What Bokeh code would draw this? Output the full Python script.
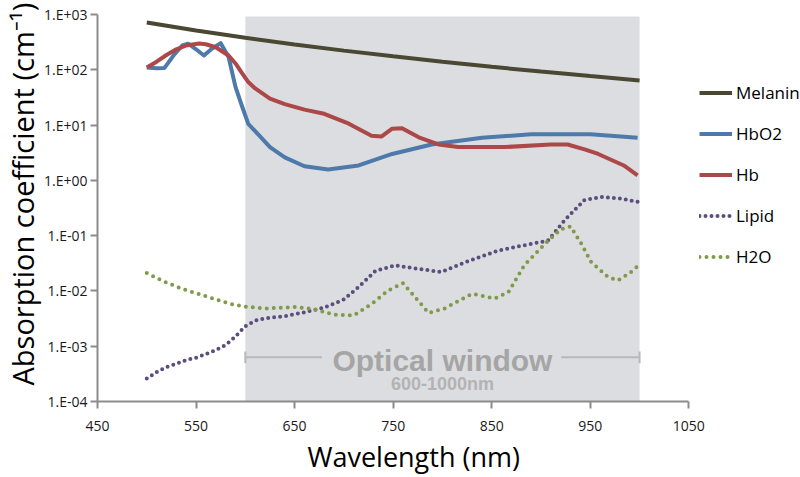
from bokeh.plotting import figure
from bokeh.models import Range1d, FixedTicker, Legend, LegendItem, Label, Title
from bokeh.embed import file_html
from bokeh.resources import INLINE

# ---------------- data ----------------
wl_melanin = [500, 550, 600, 650, 700, 750, 800, 850, 900, 950, 1000]
melanin = [716, 514, 380, 287, 222, 175, 140, 113, 93, 77, 64]

wl_hbo2 = [500, 510, 518, 528, 536, 542, 550, 558, 566, 575, 583, 590, 597, 603,
           614, 625, 640, 660, 684, 715, 749, 789, 840, 890, 950, 998]
hbo2 = [110, 107, 108, 190, 275, 296, 235, 181, 240, 303, 170, 49, 21, 10.5,
        6.5, 4.0, 2.6, 1.8, 1.57, 1.86, 3.0, 4.45, 5.9, 6.8, 6.8, 5.9]

wl_hb = [500, 510, 520, 530, 540, 553, 560, 570, 583, 590, 597, 603, 610, 625, 640,
         660, 680, 705, 728, 738, 749, 759, 776, 796, 816, 863, 910, 927, 945, 958,
         984, 998]
hb = [110, 140, 185, 235, 275, 298, 290, 256, 181, 130, 85, 60, 46, 30, 24,
      19, 16, 10.6, 6.4, 6.2, 8.6, 8.8, 6.0, 4.46, 4.0, 4.0, 4.46, 4.46, 3.6, 3.0,
      1.86, 1.23]

wl_lipid = [500, 510, 520, 530, 540, 550, 560, 570, 580, 590, 600, 610, 620, 640,
            660, 680, 700, 715, 732, 752, 776, 799, 823, 857, 890, 907, 924, 944,
            961, 980, 998]
lipid = [2.6e-4, 3.4e-4, 4.2e-4, 4.8e-4, 5.6e-4, 6.2e-4, 7.2e-4, 8.5e-4, 1.05e-3,
         1.5e-3, 2.3e-3, 2.9e-3, 3.2e-3, 3.5e-3, 4.1e-3, 5.0e-3, 7.0e-3, 1.18e-2,
         2.3e-2, 2.9e-2, 2.5e-2, 2.2e-2, 3.3e-2, 5.4e-2, 7.1e-2, 8.1e-2, 0.19, 0.44,
         0.50, 0.47, 0.41]

wl_h2o = [500, 515, 535, 560, 585, 600, 620, 650, 670, 690, 710, 728, 745, 760,
          772, 786, 802, 830, 853, 867, 883, 904, 920, 930, 941, 951, 968, 978,
          990, 1000]
h2o = [0.021, 0.0155, 0.011, 0.008, 0.0058, 0.0052, 0.0048, 0.0051, 0.0047,
       0.0037, 0.0036, 0.0058, 0.0102, 0.0138, 0.0078, 0.0040, 0.0048, 0.0089,
       0.0073, 0.0095, 0.029, 0.071, 0.13, 0.147, 0.071, 0.033, 0.0178, 0.0155,
       0.021, 0.030]

y_ticks = [1e-4, 1e-3, 1e-2, 1e-1, 1e0, 1e1, 1e2, 1e3]
y_tick_labels = ["1.E-04", "1.E-03", "1.E-02", "1.E-01", "1.E+00", "1.E+01",
                 "1.E+02", "1.E+03"]
x_ticks = [450, 550, 650, 750, 850, 950, 1050]

window_start, window_end, window_top = 600, 1000, 920

# ---------------- figure ----------------
AXIS_GREY = "#8c8c8c"
FONT = "Open Sans"

p = figure(width=800, height=477,
           x_range=Range1d(450, 1163.3), y_range=Range1d(1e-4, 1e3),
           y_axis_type="log", output_backend="svg", toolbar_location=None,
           min_border_left=95, min_border_top=14, min_border_bottom=76,
           min_border_right=0)
p.xgrid.visible = False
p.ygrid.visible = False
p.outline_line_color = None
p.background_fill_color = "white"
p.border_fill_color = "white"

# optical window shading
p.quad(left=[window_start], right=[window_end], bottom=[1e-4], top=[window_top],
       fill_color="#dcdde0", line_color=None)

r_mel = p.line(wl_melanin, melanin, line_color="#4a4833", line_width=4)
r_hbo2 = p.line(wl_hbo2, hbo2, line_color="#4d7aaa", line_width=4,
                line_join="round")
r_hb = p.line(wl_hb, hb, line_color="#ad4848", line_width=4, line_join="round")
r_lip = p.line(wl_lipid, lipid, line_color="#5b4d7c", line_width=4,
               line_dash="0 6", line_cap="round")
r_h2o = p.line(wl_h2o, h2o, line_color="#7f9b4a", line_width=4,
               line_dash="0 7", line_cap="round")

# optical window annotation
p.segment(x0=[window_start, 920.5], x1=[677.7, window_end], y0=[6.3e-4, 6.3e-4],
          y1=[6.3e-4, 6.3e-4], line_color="#b8b8b8", line_width=2)
p.segment(x0=[window_start, window_end], x1=[window_start, window_end],
          y0=[4.9e-4, 4.9e-4], y1=[8.0e-4, 8.0e-4], line_color="#b8b8b8",
          line_width=2)
p.add_layout(Label(x=800, y=5.5e-4, text="Optical window", text_align="center",
                   text_baseline="alphabetic", text_font="Liberation Sans",
                   text_font_style="bold", text_font_size="30px",
                   text_color="#a5a5a5"))
p.add_layout(Label(x=800, y=2.05e-4, text="600-1000nm", text_align="center",
                   text_baseline="alphabetic", text_font="Liberation Sans",
                   text_font_style="bold", text_font_size="18px",
                   text_color="#b3b3b3"))

# axes
xa = p.xaxis[0]
xa.ticker = FixedTicker(ticks=x_ticks)
xa.bounds = (450, 1050)
ya = p.yaxis[0]
ya.ticker = FixedTicker(ticks=y_ticks)
ya.major_label_overrides = {t: l for t, l in zip(y_ticks, y_tick_labels)}
for ax in (xa, ya):
    ax.axis_line_color = AXIS_GREY
    ax.axis_line_width = 2
    ax.major_tick_line_color = AXIS_GREY
    ax.major_tick_line_width = 2
    ax.major_tick_out = 7
    ax.major_tick_in = 0
    ax.minor_tick_line_color = None
    ax.major_label_text_font = FONT
    ax.major_label_text_font_size = "14px"
    ax.major_label_text_color = "#1a1a1a"
xa.major_label_standoff = 12
ya.major_label_standoff = 3

# axis titles (placed in the side panels)
p.add_layout(Title(text="Wavelength (nm)", align="left", offset=210, standoff=5,
                   text_font=FONT, text_font_size="27px",
                   text_font_style="normal", text_color="black"), "below")
p.add_layout(Title(text="Absorption coefficient (cm\u207b\u00b9)", align="left",
                   offset=16, standoff=0, text_font=FONT, text_font_size="29px",
                   text_font_style="normal", text_color="black"), "left")

legend = Legend(items=[LegendItem(label="Melanin", renderers=[r_mel]),
                       LegendItem(label="HbO2", renderers=[r_hbo2]),
                       LegendItem(label="Hb", renderers=[r_hb]),
                       LegendItem(label="Lipid", renderers=[r_lip]),
                       LegendItem(label="H2O", renderers=[r_h2o])],
                location=(602, 132), padding=0, margin=0,
                border_line_color=None, background_fill_alpha=0,
                glyph_width=33, glyph_height=25, label_height=25, spacing=16,
                label_standoff=4, label_text_font=FONT,
                label_text_font_size="17px", label_text_color="black")
p.add_layout(legend)

open("out.html", "w").write(file_html(p, INLINE))
